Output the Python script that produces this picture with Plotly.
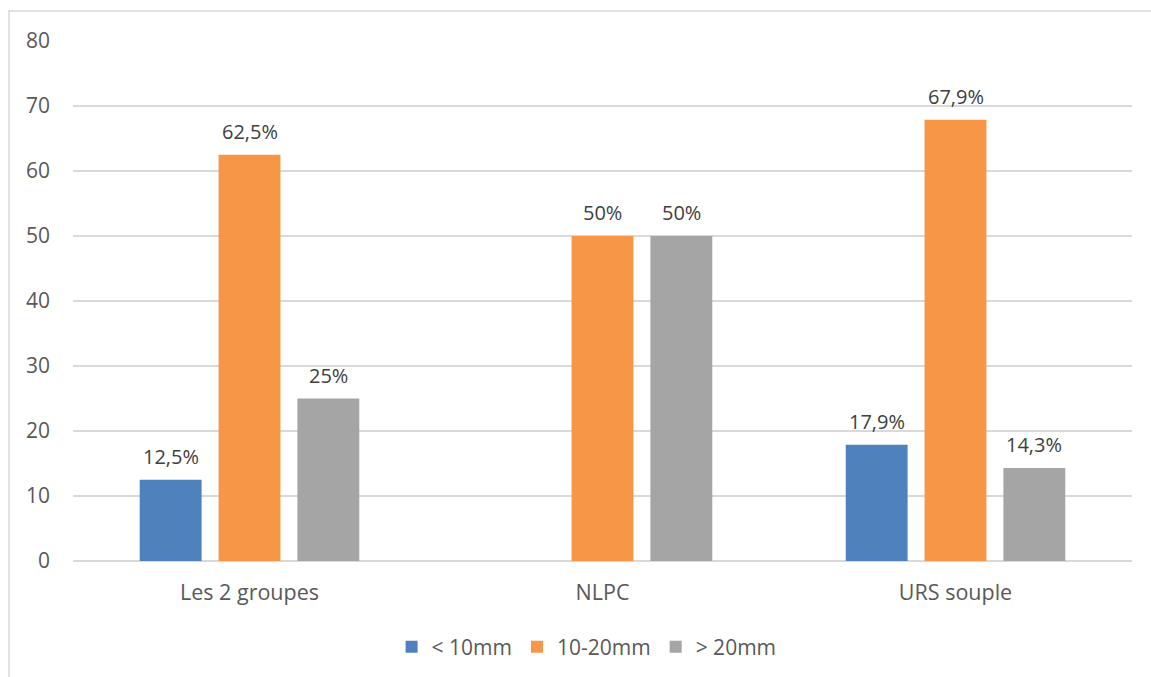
import plotly.graph_objects as go

categories = ["Les 2 groupes", "NLPC", "URS souple"]
series_names = ["< 10mm", "10-20mm", "> 20mm"]
small = [12.5, 0, 17.9]
medium = [62.5, 50, 67.9]
large = [25, 50, 14.3]
colors = ["#4F81BD", "#F79646", "#A5A5A5"]
y_ticks = [0, 10, 20, 30, 40, 50, 60, 70, 80]


def pct_label(v):
    if v == 0:
        return ""
    return f"{v:g}".replace(".", ",") + "%"


FONT = "Open Sans"
TEXT_COLOR = "#595959"
LABEL_COLOR = "#404040"
GRID = "#D9D9D9"

W, H = 1151, 677
M = dict(l=73, r=19, t=41, b=116)
BARGAP, GROUPGAP = 0.33, 0.215

fig = go.Figure()
series = [small, medium, large]
for name, vals, col in zip(series_names, series, colors):
    fig.add_trace(go.Bar(
        x=categories,
        y=vals,
        name=name,
        marker=dict(color=col, line=dict(width=0)),
    ))

# value labels above each bar, shifted to the slot of their series
plot_w = W - M["l"] - M["r"]
slot = plot_w / len(categories) * (1 - BARGAP) / len(series)
for i, vals in enumerate(series):
    dx = (i - (len(series) - 1) / 2) * slot
    for cat, v in zip(categories, vals):
        label = pct_label(v)
        if not label:
            continue
        fig.add_annotation(x=cat, y=v, text=label, showarrow=False,
                           xanchor="center", yanchor="bottom", xshift=dx, yshift=8,
                           font=dict(family=FONT, size=20, color=LABEL_COLOR))

# outer chart frame
fig.add_shape(type="rect", xref="paper", yref="paper",
              x0=-0.0604, x1=1.03, y0=-0.26, y1=1.0577,
              line=dict(color=GRID, width=1.5), fillcolor="rgba(0,0,0,0)", layer="below")

fig.update_layout(
    width=W, height=H,
    margin=M,
    paper_bgcolor="white", plot_bgcolor="white",
    barmode="group", bargap=BARGAP, bargroupgap=GROUPGAP,
    font=dict(family=FONT, size=21, color=TEXT_COLOR),
    xaxis=dict(showgrid=False, showline=False, ticks="", ticklabelstandoff=16,
               automargin=False,
               tickfont=dict(family=FONT, size=21.5, color=TEXT_COLOR)),
    yaxis=dict(range=[0, 80], tickvals=y_ticks, showgrid=True, gridcolor=GRID, gridwidth=1.5,
               zeroline=True, zerolinecolor=GRID, zerolinewidth=1.5, showline=False,
               ticks="", ticklabelstandoff=22, automargin=False,
               tickfont=dict(family=FONT, size=21, color=TEXT_COLOR)),
    legend=dict(orientation="h", x=0.485, xanchor="center",
                yref="container", y=0.044, yanchor="middle",
                font=dict(family=FONT, size=21, color=TEXT_COLOR), itemwidth=30,
                traceorder="normal"),
    showlegend=True,
)

fig.write_html("out.html")
